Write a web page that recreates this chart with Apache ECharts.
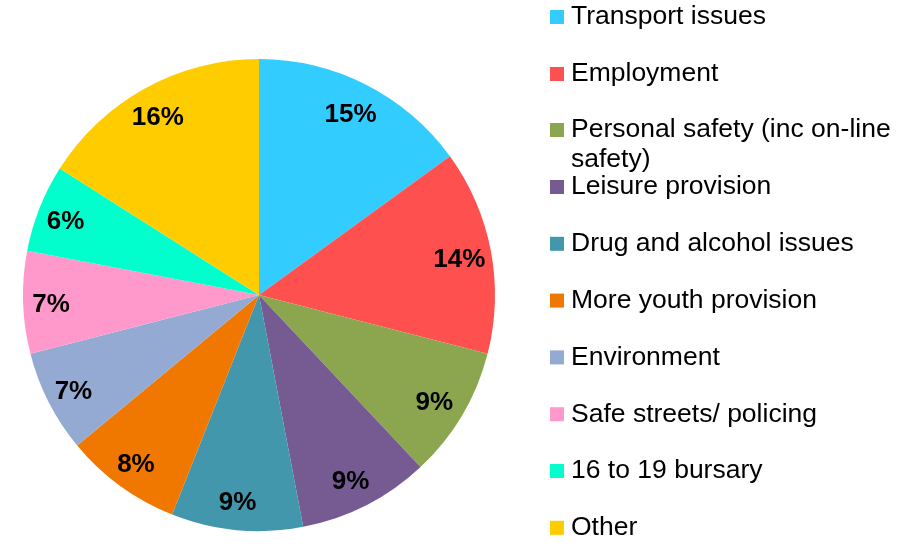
<!DOCTYPE html>
<html>
<head>
<meta charset="utf-8">
<script src="https://cdn.jsdelivr.net/npm/echarts@6/dist/echarts.min.js"></script>
<style>html,body{margin:0;padding:0;background:#fff}#c{width:904px;height:548px}</style>
</head>
<body>
<div id="c"></div>
<script>
const categories = ['Transport issues','Employment','Personal safety (inc on-line safety)','Leisure provision','Drug and alcohol issues','More youth provision','Environment','Safe streets/ policing','16 to 19 bursary','Other'];
const values = [15,14,9,9,9,8,7,7,6,16];
const colors = ['#33CCFF','#FF5050','#8BA64F','#765A92','#4397AD','#F07800','#95AAD2','#FF99CC','#00FFCC','#FFCC00'];

const font = 'Liberation Sans, Arial, sans-serif';
const chart = echarts.init(document.getElementById('c'), null, {renderer:'canvas'});
const data = categories.map((n,i)=>({name:n, value:values[i], itemStyle:{color:colors[i]}}));
const labelData = categories.map((n,i)=>({name:n, value:values[i]}));
const legText = {fontFamily:font, fontSize:26.5, color:'#000', lineHeight:28, padding:[0,0,0,2]};
const legBase = {orient:'vertical', left:550, padding:0, itemWidth:14, itemHeight:14, icon:'rect'};
chart.setOption({
  animation:false,
  legend:[
    Object.assign({}, legBase, {top:3, itemGap:29, data:categories.slice(0,2), textStyle:legText}),
    Object.assign({}, legBase, {top:85, data:[categories[2]],
      formatter:function(){return '{t|Personal safety (inc on-line}\n{t|safety)}';},
      textStyle:{fontFamily:font, fontSize:26.5, color:'#000', lineHeight:30, padding:[30,0,0,2],
        rich:{t:{fontFamily:font, fontSize:26.5, color:'#000', lineHeight:30}}}}),
    Object.assign({}, legBase, {top:173, itemGap:28.8, data:categories.slice(3), textStyle:legText})
  ],
  series:[
    {type:'pie', center:[259,295], radius:[0,236], startAngle:90, clockwise:true,
     silent:true, label:{show:false}, labelLine:{show:false},
     itemStyle:{borderWidth:0}, data:data},
    {type:'pie', center:[259,295], radius:[170,236], startAngle:90, clockwise:true,
     silent:true, itemStyle:{color:'rgba(0,0,0,0)', borderWidth:0},
     label:{show:true, position:'inside', formatter:'{v|{c}%}', padding:[6,4,0,0],
       rich:{v:{fontFamily:font, fontSize:26, fontWeight:'bold', color:'#000'}}},
     labelLine:{show:false}, data:labelData}
  ]
});
</script>
</body>
</html>
